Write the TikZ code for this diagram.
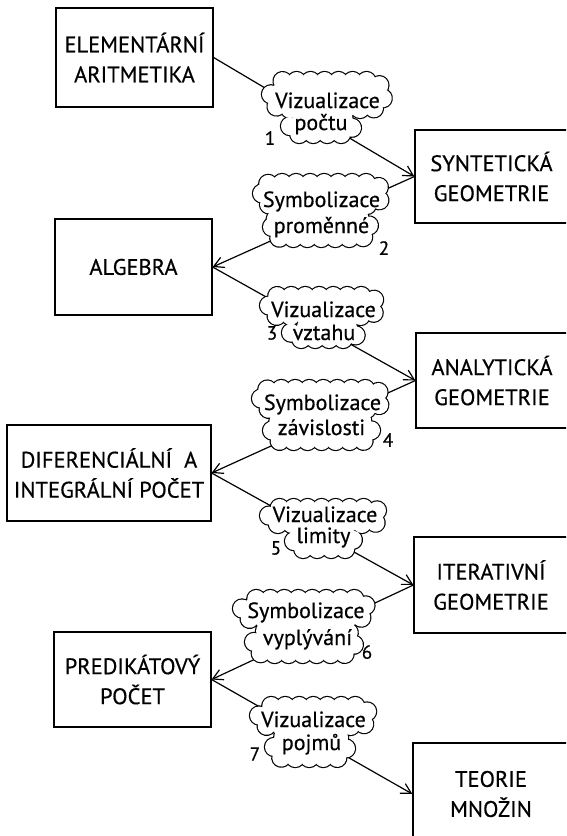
\documentclass[tikz,border=0pt]{standalone}
\usepackage{fontspec}
\setmainfont{PT Sans}
\usetikzlibrary{arrows.meta,decorations.markings}
\newfontfamily\diagfont[FakeBold=0.5]{PT Sans}
\def\pr{9}
% one cloud tier: centre x, centre y, outer half width, outer half height
\newcommand\tiercalc[4]{%
  \pgfmathsetmacro\tx{#1-#3+\pr}\pgfmathsetmacro\ty{#2-#4+\pr}%
  \pgfmathsetmacro\ux{#1+#3-\pr}\pgfmathsetmacro\uy{#2+#4-\pr}%
  \pgfmathsetmacro\rc{0.95*(#4-\pr)}}
\newcommand\tierline[4]{\tiercalc{#1}{#2}{#3}{#4}%
  \path[rounded corners=\rc pt, decorate, decoration={markings,
    mark=between positions 0 and 0.97 step 14pt with
    {\draw[line width=2.3pt] (0,0) circle[radius=\pr pt];}}] (\tx,\ty) rectangle (\ux,\uy);}
\newcommand\tierfill[4]{\tiercalc{#1}{#2}{#3}{#4}%
  \path[rounded corners=\rc pt, decorate, decoration={markings,
    mark=between positions 0 and 0.97 step 14pt with
    {\fill[white] (0,0) circle[radius=\pr pt];}}] (\tx,\ty) rectangle (\ux,\uy);
  \fill[white, rounded corners=\rc pt] (\tx,\ty) rectangle (\ux,\uy);}
\tikzset{
  box/.style={draw, line width=1.2pt, rectangle, align=center, inner sep=0pt,
    font=\diagfont\fontsize{22.5}{30}\selectfont},
  ctext/.style={anchor=base, inner sep=0pt, font=\diagfont\fontsize{22}{24}\selectfont},
  num/.style={inner sep=0pt, font=\diagfont\fontsize{19}{19}\selectfont},
  link/.style={line width=1.2pt, -{Straight Barb[length=10pt,width=11pt,line width=1.2pt]}}
}
\begin{document}
\begin{tikzpicture}[x=1pt,y=-1pt]
\clip (0,0) rectangle (566,836);
\fill[white] (0,0) rectangle (566,836);
% boxes
\node[box, minimum width=157pt, minimum height=99pt] (elem) at (134.5,57.5) {ELEMENTÁRNÍ\\ARITMETIKA};
\node[box, minimum width=153pt, minimum height=93pt] (synt) at (491.5,176.5) {SYNTETICKÁ\\GEOMETRIE};
\node[box, minimum width=157pt, minimum height=96pt] (alg) at (133.5,267) {ALGEBRA};
\node[box, minimum width=152pt, minimum height=95pt] (anal) at (492,380.5) {ANALYTICKÁ\\GEOMETRIE};
\node[box, minimum width=204pt, minimum height=96pt] (dif) at (109,473) {DIFERENCIÁLNÍ\ \ A\\INTEGRÁLNÍ POČET};
\node[box, minimum width=154pt, minimum height=96pt] (iter) at (491,585) {ITERATIVNÍ\\GEOMETRIE};
\node[box, minimum width=157pt, minimum height=95pt] (pred) at (132.5,679.5) {PREDIKÁTOVÝ\\POČET};
\node[box, minimum width=156pt, minimum height=102pt] (teor) at (491,794) {TEORIE\\MNOŽIN};
% links
\draw[link] (elem.east) -- (synt.west);
\draw[link] (synt.west) -- (alg.east);
\draw[link] (alg.east) -- (anal.west);
\draw[link] (anal.west) -- (dif.east);
\draw[link] (dif.east) -- (iter.west);
\draw[link] (iter.west) -- (pred.east);
\draw[link] (pred.east) -- (teor.west);
% cloud 1
\tierline{327}{95}{65}{23}\tierline{321}{126.5}{40}{16.5}
\tierfill{327}{95}{65}{23}\tierfill{321}{126.5}{40}{16.5}
\node[ctext] (t1a) at (327.5,108) {Vizualizace};
\node[ctext] (t1b) at (321,130) {počtu};
% cloud 2
\tierline{321.5}{194}{68.5}{20}\tierline{320.5}{227.5}{57.5}{19.5}
\tierfill{321.5}{194}{68.5}{20}\tierfill{320.5}{227.5}{57.5}{19.5}
\node[ctext] (t2a) at (321.5,207) {Symbolizace};
\node[ctext] (t2b) at (321.5,233) {proměnné};
% cloud 3
\tierline{322.5}{306}{62.5}{19}\tierline{323.5}{333}{41.5}{15}
\tierfill{322.5}{306}{62.5}{19}\tierfill{323.5}{333}{41.5}{15}
\node[ctext] (t3a) at (323.5,317) {Vizualizace};
\node[ctext] (t3b) at (324,340) {vztahu};
% cloud 4
\tierline{321}{399}{69}{19}\tierline{321.5}{431}{58.5}{19}
\tierfill{321}{399}{69}{19}\tierfill{321.5}{431}{58.5}{19}
\node[ctext] (t4a) at (322.5,410) {Symbolizace};
\node[ctext] (t4b) at (321.5,435) {závislosti};
% cloud 5
\tierline{324}{516}{64}{17}\tierline{323.5}{541.5}{38.5}{16.5}
\tierfill{324}{516}{64}{17}\tierfill{323.5}{541.5}{38.5}{16.5}
\node[ctext] (t5a) at (325,522) {Vizualizace};
\node[ctext] (t5b) at (323.5,543) {limity};
% cloud 6
\tierline{304}{609}{71}{19}\tierline{304}{642.5}{59}{20.5}
\tierfill{304}{609}{71}{19}\tierfill{304}{642.5}{59}{20.5}
\node[ctext] (t6a) at (306,618) {Symbolizace};
\node[ctext] (t6b) at (307.5,645) {vyplývání};
% cloud 7
\tierline{313.5}{716}{63.5}{19}\tierline{310}{747.5}{45}{19.5}
\tierfill{313.5}{716}{63.5}{19}\tierfill{310}{747.5}{45}{19.5}
\node[ctext] (t7a) at (313.5,727) {Vizualizace};
\node[ctext] (t7b) at (311.5,750) {pojmů};
% numbers
\node[num] (n1) at (270,138) {1};
\node[num] (n2) at (384,248) {2};
\node[num] (n3) at (272,333) {3};
\node[num] (n4) at (388,440) {4};
\node[num] (n5) at (276,548) {5};
\node[num] (n6) at (367,652) {6};
\node[num] (n7) at (255,754) {7};
\end{tikzpicture}
\end{document}
